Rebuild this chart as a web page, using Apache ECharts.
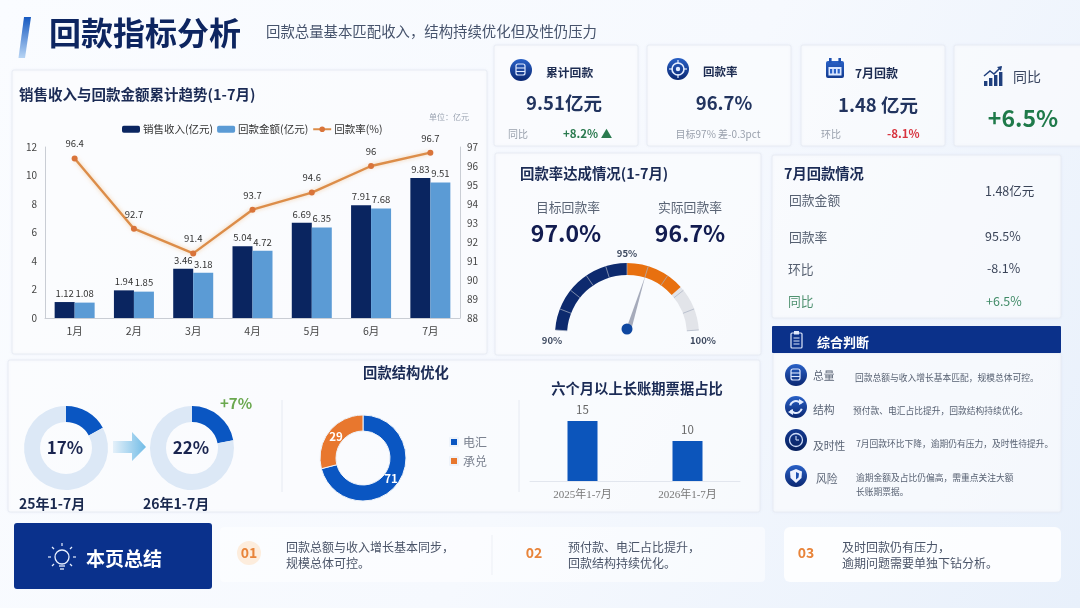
<!DOCTYPE html>
<html><head><meta charset="utf-8">
<style>html,body{margin:0;padding:0;width:1080px;height:608px;overflow:hidden}#c{width:1080px;height:608px}</style>
<script src="https://cdn.jsdelivr.net/npm/echarts@6/dist/echarts.min.js"></script>
</head><body><div id="c"></div>
<script>
// ---------- data ----------
const months = ['1月','2月','3月','4月','5月','6月','7月'];
const revenue = [1.12,1.94,3.46,5.04,6.69,7.91,9.83];
const collected = [1.08,1.85,3.18,4.72,6.35,7.68,9.51];
const rate = [96.4,92.7,91.4,93.7,94.6,96,96.7];
const seriesNames = ['销售收入(亿元)','回款金额(亿元)','回款率(%)'];
const gaugeReading = 96;
const gaugeLabels = ['90%','95%','100%'];
const shareOld = [17,83];
const shareNew = [22,78];
const payNames = ['电汇','承兑'];
const payValues = [71,29];
const longYears = ['2025年1-7月','2026年1-7月'];
const longValues = [15,10];

const F = '"Noto Sans CJK SC","Noto Sans",sans-serif';
const BLUE = '#0a56c2';
const g = [];
function txt(s,x,y,size,fill,opt){opt=opt||{};
  g.push({type:'text',z:30,silent:true,style:{text:s,x:x,y:y,fill:fill,
    font:(opt.w||'normal')+' '+size+'px '+(opt.f||F),
    textAlign:opt.a||'left',align:opt.a||'left',textVerticalAlign:'middle',verticalAlign:'middle'}});
}
function panel(x,y,w,h,fill,r,noShadow){
  g.push({type:'rect',z:0,silent:true,shape:{x:x,y:y,width:w,height:h,r:r||2},
    style:{fill:fill||'rgba(255,255,255,0.62)',stroke:noShadow?'transparent':'#e8ecf4',lineWidth:1,
      shadowBlur:noShadow?0:3,shadowColor:'rgba(120,145,190,0.08)'}});
}
function line(x1,y1,x2,y2,c,w){g.push({type:'line',z:21,silent:true,shape:{x1,y1,x2,y2},style:{stroke:c||'#e6eaf2',lineWidth:w||1}});}
function circ(x,y,r,fill,stroke,lw){g.push({type:'circle',z:21,silent:true,shape:{cx:x,cy:y,r:r},style:{fill:fill||'transparent',stroke:stroke||'transparent',lineWidth:lw||1}});}
function rr(x,y,w,h,fill,stroke,lw,r){g.push({type:'rect',z:22,silent:true,shape:{x,y,width:w,height:h,r:r||0},style:{fill:fill||'transparent',stroke:stroke||'transparent',lineWidth:lw||1}});}
function poly(pts,fill,stroke,lw,open){g.push({type:open?'polyline':'polygon',z:22,silent:true,shape:{points:pts},style:{fill:open?'transparent':fill,stroke:stroke||'transparent',lineWidth:lw||1}});}
const grad=(a,b,x2,y2)=>({type:'linear',x:0,y:0,x2:x2==null?0:x2,y2:y2==null?1:y2,colorStops:[{offset:0,color:a},{offset:1,color:b}]});
function badge(x,y,r){circ(x,y,r,grad('#2a62c8','#0a2670'));}
function dbIcon(x,y){badge(x,y,11);
  rr(x-5,y-6,9,11,null,'#dfe9ff',1.2,2);line(x-5,y-2,x+4,y-2,'#dfe9ff',1.1);line(x-5,y+1.5,x+4,y+1.5,'#dfe9ff',1.1);}
function targetIcon(x,y){badge(x,y,11);circ(x,y,6,null,'#e4edff',1.6);circ(x,y,2.2,'#e4edff');
  line(x,y-9,x,y-5,'#e4edff',1.2);line(x,y+5,x,y+9,'#e4edff',1.2);line(x-9,y,x-5,y,'#e4edff',1.2);line(x+5,y,x+9,y,'#e4edff',1.2);}
function refreshIcon(x,y){badge(x,y,11);
  g.push({type:'arc',z:22,silent:true,shape:{cx:x,cy:y,r:6,startAngle:0.3,endAngle:2.6},style:{stroke:'#e4edff',lineWidth:2,fill:'transparent'}});
  g.push({type:'arc',z:22,silent:true,shape:{cx:x,cy:y,r:6,startAngle:3.4,endAngle:5.7},style:{stroke:'#e4edff',lineWidth:2,fill:'transparent'}});
  poly([[x+3,y-8],[x+8,y-5],[x+3,y-2]],'#e4edff');poly([[x-3,y+8],[x-8,y+5],[x-3,y+2]],'#e4edff');}
function clockIcon(x,y){circ(x,y,11,grad('#143a92','#061f5c'));circ(x,y,6.5,null,'#cfdcf8',1.3);line(x,y,x,y-4,'#cfdcf8',1.1);line(x,y,x+3,y,'#cfdcf8',1.1);}
function shieldIcon(x,y){badge(x,y,11);poly([[x,y-7],[x+6,y-4.5],[x+5.5,y+2],[x,y+7],[x-5.5,y+2],[x-6,y-4.5]],'#eef3ff');
  poly([[x,y-4],[x+3,y-2.5],[x+2.5,y+1.5],[x,y+3.5]],'#1b4fb0');}
function calendarIcon(x,y){rr(x-9,y-8,18,17,grad('#2a62c8','#123a8e'),null,1,2);rr(x-6.5,y-2,13,8.5,'#dce8ff');
  rr(x-6,y-11,2.6,5,'#1f52b0');rr(x+3.4,y-11,2.6,5,'#1f52b0');
  for(let i=0;i<3;i++)rr(x-5+i*3.8,y,2.2,4.5,'#2a62c8');}
function chartIcon(x,y){const c='#1f3f7d';
  for(let i=0;i<4;i++){const h=5+i*3;rr(x-9+i*5,y+9-h,3.4,h,c);}
  poly([[x-9,y-1],[x-3,y-6],[x+1,y-3],[x+8,y-10]],null,c,1.5,true);poly([[x+4,y-10],[x+9,y-11],[x+8,y-6]],c);}

// ---------- background panels ----------
poly([[24,17],[31,17],[25,58],[18.5,58]],grad('#1558c0','#b9d6f5'));
panel(12,70,475,284);
[[494,144],[647,144],[801,144],[954,130]].forEach(a=>panel(a[0],45,a[1],101));
panel(495,153,266,202);
panel(772,155,289,163);
panel(773,353,288,159);
panel(8,360,752,152);
panel(220,527,545,55,'rgba(255,255,255,0.5)',4,true);
panel(784,527,277,55,'rgba(255,255,255,0.85)',6,true);

// ---------- header ----------
txt('回款指标分析',49,33,32,'#0d2560',{w:'bold'});
txt('回款总量基本匹配收入\uff0c结构持续优化但及性仍压力',266,32,14.4,'#46536c');

// ---------- trend panel texts ----------
txt('销售收入与回款金额累计趋势(1-7月)',19,94,14.5,'#1b2b55',{w:'bold'});
txt('单位\uff1a亿元',429,117,8,'#9aa3b1');

// ---------- KPI cards ----------
dbIcon(521,70);txt('累计回款',546,73,11.8,'#1d2c52',{w:'bold'});
txt('9.51亿元',564,103,18.5,'#22345f',{w:'bold',a:'center'});
txt('同比',508,134,10,'#9aa1ad');txt('+8.2% ▲',563,134,11.5,'#2a7a4f',{w:'bold'});
targetIcon(678,69);txt('回款率',703,72,11.5,'#1d2c52',{w:'bold'});
txt('96.7%',724,103,18.5,'#22345f',{w:'bold',a:'center'});
txt('目标97% 差-0.3pct',718,134,10,'#9aa1ad',{a:'center'});
calendarIcon(835,69);txt('7月回款',855,73,12,'#1d2c52',{w:'bold'});
txt('1.48 亿元',878,105,18.5,'#22345f',{w:'bold',a:'center'});
txt('环比',821,134,10,'#9aa1ad');txt('-8.1%',887,134,11.5,'#d8343f',{w:'bold'});
chartIcon(993,77);txt('同比',1013,77,14,'#3a4660');
txt('+6.5%',1023,118,23,'#1f7a4a',{w:'bold',a:'center'});

// ---------- gauge panel ----------
txt('回款率达成情况(1-7月)',520,174,14.4,'#1b2b55',{w:'bold'});
txt('目标回款率',568,207,12.8,'#5a6475',{a:'center'});
txt('实际回款率',690,207,12.8,'#5a6475',{a:'center'});
txt('97.0%',566,233,23,'#121c50',{w:'bold',a:'center'});
txt('96.7%',690,233,23,'#121c50',{w:'bold',a:'center'});
txt(gaugeLabels[0],552,340,9.5,'#3e4a60',{w:'bold',a:'center'});
txt(gaugeLabels[1],627,253,9.5,'#3e4a60',{w:'bold',a:'center'});
txt(gaugeLabels[2],703,340,9.5,'#3e4a60',{w:'bold',a:'center'});

// ---------- July panel ----------
txt('7月回款情况',784,174,14.3,'#1b2b55',{w:'bold'});
txt('回款金额',789,200,12.8,'#555f70');txt('1.48亿元',985,191,12.5,'#3a4458');
txt('回款率',789,237,12.8,'#555f70');txt('95.5%',985,236,12.5,'#3a4458');
txt('环比',788,269,12.8,'#555f70');txt('-8.1%',987,268,12.5,'#3a4458');
txt('同比',788,301,12.8,'#4f9170');txt('+6.5%',986,301,12.5,'#3f8a66');

// ---------- judgement panel ----------
rr(772,326,289,27,'#0b318a',null,1,1);
rr(791,333,11,15,null,'#dfe8fb',1.2,1);rr(794,331,5,3.5,'#dfe8fb');
line(793.5,338,799.5,338,'#dfe8fb',1);line(793.5,341,799.5,341,'#dfe8fb',1);line(793.5,344,799.5,344,'#dfe8fb',1);
// bring the header's inner marks over its fill
g.slice(-6).forEach(e=>e.z=23);
g[g.length-6].z=20;
txt('综合判断',817,342,13,'#ffffff',{w:'bold'});
dbIcon(796,375);txt('总量',813,376,10.8,'#5a6475');
txt('回款总额与收入增长基本匹配\uff0c规模总体可控。',855,378,8.76,'#555f70');
refreshIcon(796,407);txt('结构',813,410,10.8,'#5a6475');
txt('预付款、电汇占比提升\uff0c回款结构持续优化。',853,411,8.76,'#555f70');
clockIcon(796,440);txt('及时性',813,446,10.8,'#5a6475');
txt('7月回款环比下降\uff0c逾期仍有压力\uff0c及时性待提升。',856,444,8.76,'#555f70');
shieldIcon(796,476);txt('风险',816,479,10.8,'#5a6475');
txt('逾期金额及占比仍偏高\uff0c需重点关注大额',856,478,8.76,'#555f70');
txt('长账期票据。',856,492,8.76,'#555f70');

// ---------- structure panel ----------
txt('回款结构优化',406,373,14.3,'#1b2b55',{w:'bold',a:'center'});
txt('17%',65,448,17,'#1a2550',{w:'bold',a:'center'});
txt('22%',191,448,17,'#1a2550',{w:'bold',a:'center'});
poly([[113,441],[132,441],[132,432],[146,447],[132,461],[132,453],[113,453]],grad('#e6f1fa','#6fbbe6',1,0));
txt('+7%',220,403,15,'#6aa84f',{w:'bold'});
txt('25年1-7月',19,504,14,'#1b2a4f',{w:'bold'});
txt('26年1-7月',143,504,14,'#1b2a4f',{w:'bold'});
line(282,400,282,492);line(519,400,519,492);
txt('六个月以上长账期票据占比',637,389,14.3,'#1b2b55',{w:'bold',a:'center'});

// ---------- footer ----------
rr(14,523,198,66,'#0a318c',null,1,3);
g[g.length-1].z=20;
const bx=62,by=557;
function hi(){g[g.length-1].z=23;}
circ(bx,by,7,null,'#e8f0ff',1.3);hi();line(bx-3,by+9,bx+3,by+9,'#e8f0ff',1.3);hi();line(bx-2,by+12,bx+2,by+12,'#e8f0ff',1.3);hi();
[[0,-11,0,-14],[8,-8,10,-10],[-8,-8,-10,-10],[11,0,14,0],[-11,0,-14,0],[8,7,10,9],[-8,7,-10,9]].forEach(a=>{line(bx+a[0],by+a[1],bx+a[2],by+a[3],'#e8f0ff',1.2);hi();});
txt('本页总结',86,559,19,'#ffffff',{w:'bold'});
circ(249,553,12,'#fdeddd');
txt('01',249,553,14,'#e8843a',{w:'bold',a:'center'});
txt('回款总额与收入增长基本同步\uff0c',286,547,12,'#4a5468');txt('规模总体可控。',286,563,12,'#4a5468');
line(492,535,492,575,'#eceff5');
txt('02',534,553,14,'#e8843a',{w:'bold',a:'center'});
txt('预付款、电汇占比提升\uff0c',568,547,12,'#4a5468');txt('回款结构持续优化。',568,563,12,'#4a5468');
txt('03',806,553,14,'#e8843a',{w:'bold',a:'center'});
txt('及时回款仍有压力\uff0c',842,547,12,'#4a5468');txt('逾期问题需要单独下钻分析。',842,563,12,'#4a5468');

// ---------- chart ----------
const axLine={show:true,lineStyle:{color:'#c9cdd4',width:1}};
const lab=(s,c)=>({fontSize:s,color:c||'#444',fontFamily:F});
function donut(vals,cx){return {type:'pie',silent:true,center:[cx,448],radius:[26,42],startAngle:90,label:{show:false},labelLine:{show:false},
  data:[{value:vals[0],name:'占比',itemStyle:{color:BLUE}},{value:vals[1],name:'其余',itemStyle:{color:'#dce8f6'}}]};}
const option={
  animation:false,
  backgroundColor:{type:'linear',x:0,y:0,x2:1,y2:1,colorStops:[{offset:0,color:'#fafcff'},{offset:.55,color:'#f6f9fe'},{offset:1,color:'#e8f0fb'}]},
  textStyle:{fontFamily:F},
  graphic:{elements:g},
  legend:[
    {data:[{name:seriesNames[0]},{name:seriesNames[1]},{name:seriesNames[2]}],left:117,top:119,itemWidth:18,itemHeight:7,itemGap:4,
      textStyle:{fontSize:10.5,color:'#333',fontFamily:F,padding:[0,0,0,-2]}},
    {data:payNames,orient:'vertical',left:444,top:431,itemWidth:8,itemHeight:8,itemGap:7,icon:'rect',
      textStyle:{fontSize:12,color:'#7b8290',fontFamily:F}}
  ],
  grid:[{left:45,top:147,width:415,height:171},{left:530,top:401,width:210,height:80}],
  xAxis:[
    {type:'category',gridIndex:0,data:months,axisLine:axLine,axisTick:{show:false},axisLabel:Object.assign({margin:8},lab(10.5))},
    {type:'category',gridIndex:1,data:longYears,axisLine:{show:true,lineStyle:{color:'#e2e6ee'}},axisTick:{show:false},axisLabel:Object.assign({margin:9},lab(11,'#777'),{fontFamily:'"Liberation Serif","Noto Sans CJK SC",serif'})}
  ],
  yAxis:[
    {type:'value',gridIndex:0,min:0,max:12,interval:2,splitLine:{show:false},axisLine:axLine,axisTick:{show:false},axisLabel:Object.assign({margin:8},lab(10))},
    {type:'value',gridIndex:0,position:'right',min:88,max:97,interval:1,splitLine:{show:false},axisLine:axLine,axisTick:{show:false},axisLabel:Object.assign({margin:7},lab(10))},
    {type:'value',gridIndex:1,min:0,max:20,show:false,splitLine:{show:false}}
  ],
  series:[
    {name:seriesNames[0],type:'bar',xAxisIndex:0,yAxisIndex:0,data:revenue,barWidth:20,barGap:0,itemStyle:{color:'#0a2560'},
      label:{show:true,position:'top',distance:4,fontSize:9.5,color:'#333',fontFamily:F}},
    {name:seriesNames[1],type:'bar',xAxisIndex:0,yAxisIndex:0,data:collected,barWidth:20,barGap:0,itemStyle:{color:'#5b9bd5'},
      label:{show:true,position:'top',distance:4,fontSize:9.5,color:'#333',fontFamily:F}},
    {name:seriesNames[2],type:'line',xAxisIndex:0,yAxisIndex:1,data:rate,symbol:'circle',symbolSize:6,
      lineStyle:{color:'#dc8d49',width:2.4,shadowBlur:4,shadowColor:'rgba(240,170,90,0.55)'},itemStyle:{color:'#d9743a'},z:5,
      label:{show:true,position:'top',distance:7,fontSize:9.5,color:'#333',fontFamily:F}},
    {type:'gauge',center:[627,335],radius:72,startAngle:176,endAngle:4,min:90,max:100,splitNumber:10,silent:true,
      axisLine:{lineStyle:{width:12,color:[[0.5,'#0d2a6e'],[0.78,'#e8700f'],[1,'#e2e4e9']]}},
      axisTick:{show:false},axisLabel:{show:false},
      splitLine:{length:12,distance:-12,lineStyle:{color:'rgba(170,178,195,0.7)',width:1}},
      pointer:{icon:'triangle',length:56,width:5,offsetCenter:[0,-6],itemStyle:{color:'#a6abbb'}},
      anchor:{show:true,showAbove:true,size:11,offsetCenter:[0,-6],itemStyle:{color:'#0f47a0'}},
      title:{show:false},detail:{show:false},data:[{value:gaugeReading}]},
    donut(shareOld,66),
    donut(shareNew,192),
    {type:'pie',silent:true,center:[363,458],radius:[27,43],startAngle:90,
      itemStyle:{borderColor:'#eef3fa',borderWidth:1},
      label:{show:true,position:'inside',formatter:'{c}',color:'#fff',fontWeight:'bold',fontSize:11.5,fontFamily:F},labelLine:{show:false},
      labelLayout:function(p){return p.dataIndex===0?{dx:-2,dy:-3}:{dx:3,dy:2};},
      data:[{value:payValues[0],name:payNames[0],itemStyle:{color:BLUE}},
            {value:payValues[1],name:payNames[1],itemStyle:{color:'#e8772e'}}]},
    {type:'bar',xAxisIndex:1,yAxisIndex:2,data:longValues,barWidth:30,itemStyle:{color:'#0c55bb'},
      label:{show:true,position:'top',distance:6,fontSize:11.5,color:'#666',fontFamily:F}}
  ]
};
echarts.init(document.getElementById('c'),null,{renderer:'canvas'}).setOption(option);
</script></body></html>
